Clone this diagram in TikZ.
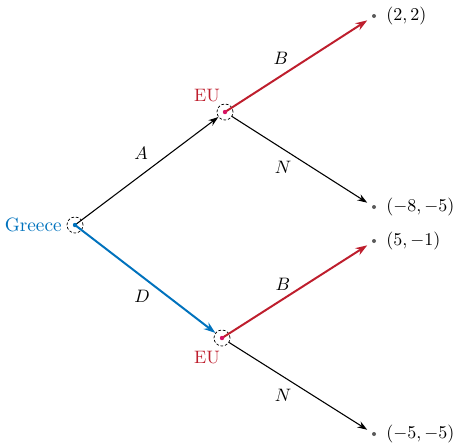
\documentclass[tikz,border=0pt]{standalone}
\usetikzlibrary{arrows.meta}
\definecolor{gblue}{RGB}{0,114,189}
\definecolor{gred}{RGB}{190,30,45}
\definecolor{gmag}{RGB}{215,20,100}
\definecolor{ggray}{RGB}{90,90,90}
\begin{document}
\begin{tikzpicture}[x=0.5556pt,y=-0.5556pt,
  decision/.style={circle,draw,dashed,dash pattern=on 1.5pt off 1pt,line width=0.4pt,minimum size=8.9pt,inner sep=0pt},
  leaf/.style={circle,minimum size=8.5pt,inner sep=0pt},
  plain/.style={line width=0.6pt,-{Stealth[length=5.5pt,width=3.8pt]}},
  hlred/.style={gred,line width=1.1pt,-{Stealth[length=6.5pt,width=4.5pt]}},
  hlblue/.style={gblue,line width=1.1pt,-{Stealth[length=6.5pt,width=4.5pt]}},
  pay/.style={anchor=west,inner sep=0pt}]
\useasboundingbox (0,0) rectangle (457,444);
% nodes
\node[decision] (g) at (75,225) {};
\node[decision] (e1) at (225,112) {};
\node[decision] (e2) at (222,338) {};
\node[leaf] (t1) at (374,16) {};
\node[leaf] (t2) at (374,207) {};
\node[leaf] (t3) at (374,241) {};
\node[leaf] (t4) at (374,434) {};
% labels
\node[gblue,anchor=east,inner sep=0pt,font=\fontsize{10.7}{12}\selectfont] (gl) at (62,225) {Greece};
\node[gred] (e1l) at (207,96) {EU};
\node[gred] (e2l) at (207,358) {EU};
% edges
\draw[plain] (g.center) -- (e1);
\draw[hlblue] (g.center) -- (e2);
\draw[hlred] (e1.center) -- (t1);
\draw[plain] (e1) -- (t2);
\draw[hlred] (e2.center) -- (t3);
\draw[plain] (e2) -- (t4);
% center dots
\fill[gblue] (g.center) circle (2.2);
\fill[gmag] (e1.center) circle (2.2);
\fill[gmag] (e2.center) circle (2.2);
% terminal dots and payoffs
\foreach \t/\p in {t1/{(2,2)},t2/{(-8,-5)},t3/{(5,-1)},t4/{(-5,-5)}}{
  \fill[ggray] (\t.center) circle (2);
  \node[pay] at ([xshift=6.7pt]\t.center) {$\p$};
}
% edge labels
\node (la) at (141,153) {$A$};
\node (ld) at (142,296) {$D$};
\node (lb1) at (281,58) {$B$};
\node (ln1) at (283,167) {$N$};
\node (lb2) at (283,284) {$B$};
\node (ln2) at (283,395) {$N$};
\end{tikzpicture}
\end{document}
